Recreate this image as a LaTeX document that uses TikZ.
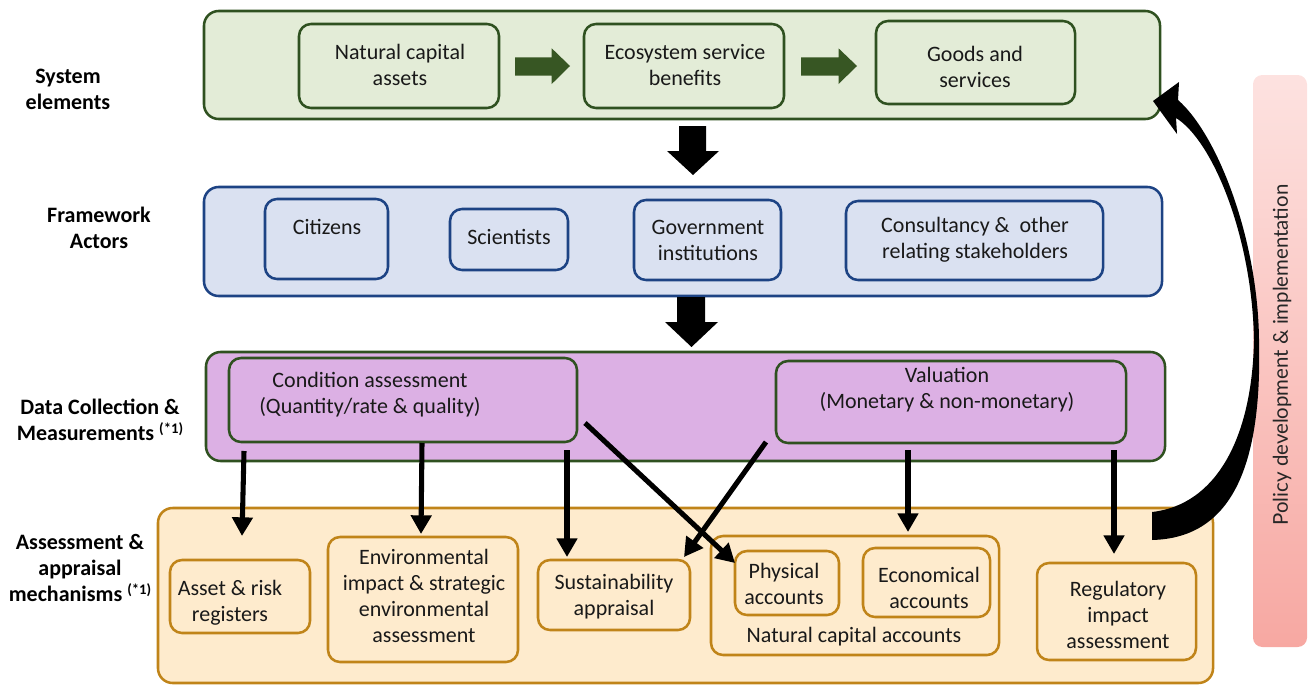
\documentclass[tikz,border=0pt]{standalone}
\usepackage{fontspec}
\setmainfont{Carlito}
\newfontfamily\pfont{Lato}
\usetikzlibrary{arrows.meta,fit}
\definecolor{gfill}{HTML}{E3ECD7}
\definecolor{gline}{HTML}{2F5120}
\definecolor{garrow}{HTML}{375623}
\definecolor{bfill}{HTML}{DAE1F1}
\definecolor{bline}{HTML}{1D4384}
\definecolor{pfill}{HTML}{DCB0E4}
\definecolor{ofill}{HTML}{FEEBCD}
\definecolor{oline}{HTML}{C08419}
\definecolor{pinkT}{HTML}{FDE2E0}
\definecolor{pinkB}{HTML}{F7A8A2}
\begin{document}
\begin{tikzpicture}[x=0.75pt,y=-0.75pt,
 box/.style={draw, rounded corners=9pt, line width=1.9pt, inner sep=0pt},
 outerbox/.style={box, rounded corners=11pt},
 gbox/.style={box, draw=gline, fill=gfill},
 bbox/.style={box, draw=bline, fill=bfill},
 pbox/.style={box, draw=gline, fill=pfill},
 obox/.style={box, draw=oline, fill=ofill},
 txt/.style={align=center, font=\fontsize{16.5}{19.5}\selectfont, inner sep=0pt, text=black!90},
 lbl/.style={align=center, font=\fontsize{16.5}{19.5}\selectfont\bfseries, inner sep=0pt},
 thinarrow/.style={line width=3.8pt, -{Triangle[length=14pt,width=15pt]}},
]
\useasboundingbox (0,0) rectangle (1308,685);

% ---------- left labels ----------
\node[lbl] (l1) at (68,89) {System\\elements};
\node[lbl] (l2) at (99,228) {Framework\\Actors};
\node[lbl] (l3) at (100,420) {Data Collection \&\\Measurements {\fontsize{11}{11}\selectfont\raisebox{5pt}{(*1)}}};
\node[lbl] (l4) at (80,568) {Assessment \&\\appraisal\\mechanisms {\fontsize{11}{11}\selectfont\raisebox{5pt}{(*1)}}};

% ---------- green row ----------
\node[gbox, outerbox, fit={(204,11) (1160,119)}] (green) {};
\node[gbox, fit={(299,24) (499,108)}] (nca) {};
\node[gbox, fit={(584,24) (784,108)}] (esb) {};
\node[gbox, fit={(876,21) (1075,104)}] (gs) {};
\node[txt] (nca-t) at (400,65) {Natural capital\\assets};
\node[txt] (esb-t) at (685,65) {Ecosystem service\\benefits};
\node[txt] (gs-t) at (975,67) {Goods and\\services};
\fill[garrow] (515,57.3) -- (551.7,57.3) -- (551.7,48.3) -- (570,66) -- (551.7,84) -- (551.7,75.7) -- (515,75.7) -- cycle;
\fill[garrow] (801,57.3) -- (838.5,57.3) -- (838.5,48.3) -- (857,66) -- (838.5,84) -- (838.5,75.7) -- (801,75.7) -- cycle;

% ---------- blue row ----------
\node[bbox, outerbox, fit={(204,187) (1162,296)}] (blue) {};
\node[bbox, fit={(265,199) (388,279)}] (cit) {};
\node[bbox, fit={(450,209) (568,270)}] (sci) {};
\node[bbox, fit={(634,200) (781,280)}] (gov) {};
\node[bbox, fit={(846,201) (1103,280)}] (con) {};
\node[txt] (cit-t) at (327,227) {Citizens};
\node[txt] (sci-t) at (509,237) {Scientists};
\node[txt] (gov-t) at (708,240) {Government\\institutions};
\node[txt] (con-t) at (975,240) {Consultancy \&\ \ other\\relating stakeholders};

% block arrows
\fill (679,126) -- (706,126) -- (706,151) -- (719,151) -- (693,175) -- (667,151) -- (679,151) -- cycle;
\fill (677,297) -- (705,297) -- (705,322) -- (718,322) -- (691.5,347) -- (665,322) -- (677,322) -- cycle;

% ---------- purple row ----------
\node[pbox, outerbox, fit={(206,352) (1165,461)}] (purple) {};
\node[pbox, fit={(229,358) (577,442)}] (cond) {};
\node[pbox, fit={(776,361) (1126,443)}] (val) {};
\node[txt] (cond-t) at (370,395) {Condition assessment\\(Quantity/rate \& quality)};
\node[txt] (val-t) at (947,390) {Valuation\\(Monetary \& non-monetary)};

% ---------- pink bar ----------
\shade[top color=pinkT, bottom color=pinkB, rounded corners=7pt] (1253,75) rectangle (1307,647);
\node[rotate=90, font=\pfont\fontsize{15.3}{18}\selectfont, text=black!85, inner sep=0pt] (policy) at (1282,355) {Policy development \& implementation};

% ---------- orange row ----------
\node[obox, outerbox, fit={(158,508) (1213,683)}] (orange) {};
\node[obox, fit={(170,560) (310,633)}] (arr) {};
\node[obox, fit={(328,537) (518,662)}] (env) {};
\node[obox, fit={(538,560) (690,630)}] (sus) {};
\node[obox, fit={(711,536) (999,655)}] (ncacc) {};
\node[obox, fit={(735,551) (839,615)}] (phy) {};
\node[obox, fit={(863,548) (990,617)}] (eco) {};
\node[obox, fit={(1037,563) (1196,660)}] (reg) {};
\node[txt] (arr-t) at (230,603) {Asset \& risk\\registers};
\node[txt] (env-t) at (424,596) {Environmental\\impact \& strategic\\environmental\\assessment};
\node[txt] (sus-t) at (614,597) {Sustainability\\appraisal};
\node[txt] (phy-t) at (784,584) {Physical\\accounts};
\node[txt] (eco-t) at (929,588) {Economical\\accounts};
\node[txt] (ncacc-t) at (854,637) {Natural capital accounts};
\node[txt] (reg-t) at (1118,615) {Regulatory\\impact\\assessment};

% ---------- thin arrows ----------
\coordinate (s1) at (244,451); \coordinate (e1) at (242,536);
\coordinate (s2) at (422,443); \coordinate (e2) at (421,534);
\coordinate (s3) at (567,450); \coordinate (e3) at (567,557);
\coordinate (s4) at (585,423); \coordinate (e4) at (735,563);
\coordinate (s5) at (766,442); \coordinate (e5) at (684,557);
\coordinate (s6) at (908,450); \coordinate (e6) at (908,532);
\coordinate (s7) at (1114,450); \coordinate (e7) at (1114,554);
\foreach \i in {1,...,7} { \draw[thinarrow] (s\i) -- (e\i); }

% ---------- curved feedback arrow ----------
\fill (1152,540) .. controls (1235,538) and (1262,460) .. (1259,340)
  .. controls (1258,240) and (1218,135) .. (1178,100)
  -- (1179,82) -- (1153,101) -- (1177,134) -- (1176,118)
  .. controls (1212,140) and (1252,235) .. (1254,340)
  .. controls (1252,440) and (1215,505) .. (1152,512) -- cycle;
\end{tikzpicture}
\end{document}
